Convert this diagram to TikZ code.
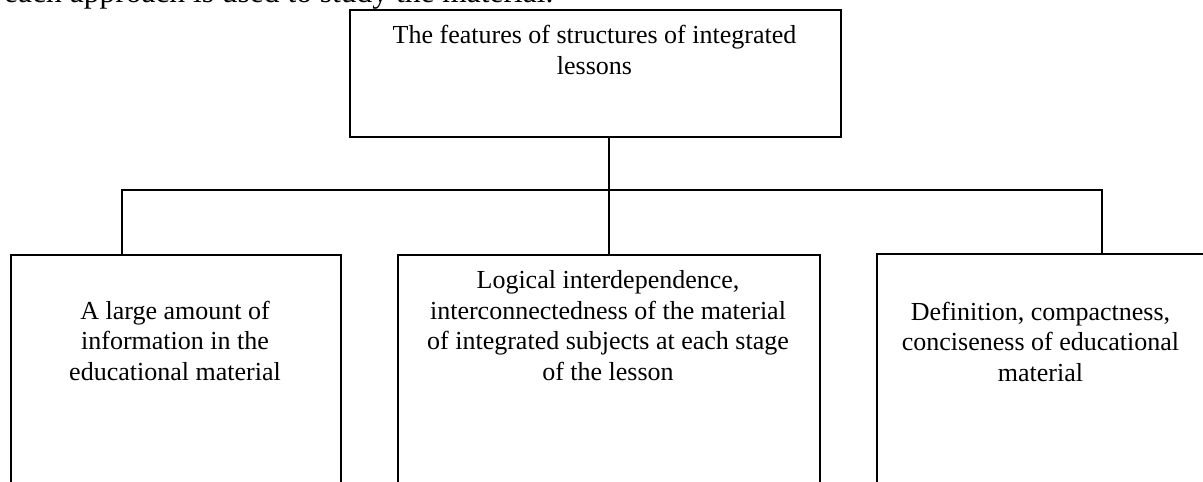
\documentclass[tikz,border=0pt]{standalone}
\usepackage{fontspec}
\setmainfont{Liberation Serif}
\begin{document}
\begin{tikzpicture}[x=1pt,y=-1pt,
  box/.style={draw,line width=1.5pt,rectangle,inner sep=0pt,anchor=north west},
  label/.style={anchor=base,align=center,inner sep=0pt,font=\fontsize{26}{30.5}\selectfont},
  link/.style={line width=1.5pt}]
\useasboundingbox (0,0) rectangle (1203,482);
\clip (0,0) rectangle (1203,482);
\node[anchor=base west,inner sep=0pt,font=\fontsize{31.5}{36}\selectfont] (cut) at (4,2) {each approach is used to study the material.};
\node[box,minimum width=491pt,minimum height=127pt] (top) at (349,9) {};
\node[box,minimum width=330pt,minimum height=320pt] (left) at (10,254) {};
\node[box,minimum width=422pt,minimum height=320pt] (mid) at (397,254) {};
\node[box,minimum width=420pt,minimum height=320pt] (right) at (876,253) {};
\node[label] (ttop) at (594.5,74) {The features of structures of integrated\\lessons};
\node[label] (tleft) at (175,380) {A large amount of\\information in the\\educational material};
\node[label] (tmid) at (608,380) {Logical interdependence,\\interconnectedness of the material\\of integrated subjects at each stage\\of the lesson};
\node[label] (tright) at (1040.5,381) {Definition, compactness,\\conciseness of educational\\material};
\coordinate (lj) at (122,190);
\coordinate (rj) at (1102,190);
\draw[link] (top.south -| mid.north) -- (mid.north);
\draw[link] (left.north -| lj) -- (lj) -- (rj) -- (right.north -| rj);
\end{tikzpicture}
\end{document}
